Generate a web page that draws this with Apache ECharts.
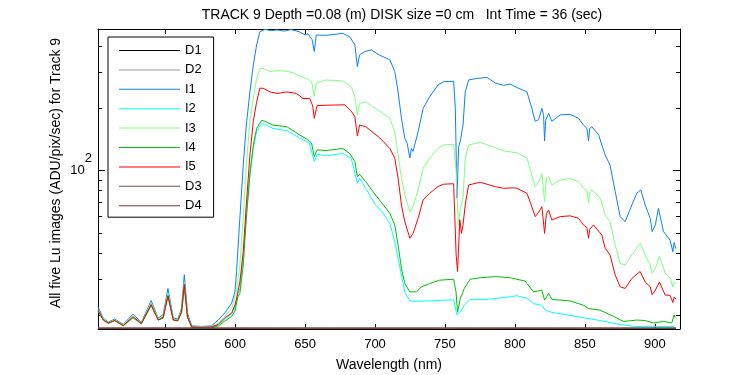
<!DOCTYPE html>
<html>
<head>
<meta charset="utf-8">
<script src="https://cdn.jsdelivr.net/npm/echarts@6/dist/echarts.min.js"></script>
<style>
  html, body { margin: 0; padding: 0; background: #fff; }
  #chart { width: 750px; height: 375px; }
</style>
</head>
<body>
<div id="chart"></div>
<script>
// [wavelength nm, Lu value]
const i1 = [[502, 22.0], [505.8, 19.4], [509.4, 18.6], [514, 19.2], [520, 18.1], [527, 20.3], [533, 18.5], [540, 23.6], [545, 19.4], [548.6, 20.2], [552, 27.0], [555.8, 19.5], [559, 19.2], [561.7, 21.6], [563.7, 31.5], [566, 20.5], [569, 17.8], [576, 17.7], [583, 17.8], [588, 19.0], [592.7, 20.6], [597.5, 22.9], [599.9, 26.0], [601, 32.5], [603.4, 59], [605.8, 106], [608, 166], [610.6, 240], [613, 324], [615.4, 405], [617.7, 469], [621.3, 481], [626, 474], [630, 478], [635, 472], [640, 480], [646, 468], [650, 452], [652, 458], [655, 430], [656.6, 376], [658, 452], [665, 450], [677, 460], [682, 442], [685.6, 405], [687.4, 318], [689, 362], [692.7, 376], [697.4, 383], [703, 362], [710.6, 343], [714.1, 301], [716.5, 240], [718.9, 179], [721.3, 143], [723, 135], [724.9, 115], [726, 128], [727.2, 124], [730.8, 154], [734.4, 200], [739.1, 228], [745, 259], [749, 269], [756.2, 270], [757.4, 200], [758.6, 73.8], [759.8, 131], [761, 139], [762.9, 166], [764.5, 240], [766.9, 274], [772.9, 279], [780, 282], [786, 265], [791.9, 258], [796.6, 262], [801.4, 252], [808.6, 240], [812.1, 200], [814.5, 173], [816.9, 176], [819.3, 200], [820.5, 185], [821.2, 139], [822, 175], [824.1, 189], [826.4, 173], [832.4, 186], [839.5, 187], [845.5, 179], [849, 166], [851.5, 160], [852.6, 139], [853.5, 160], [855, 163], [859.8, 149], [864.5, 119], [868, 106.5], [871.7, 79.2], [875.2, 60], [878.8, 56.7], [883.6, 68.3], [887.1, 77.8], [890, 80.7], [893.1, 68.3], [896.7, 58.9], [898.1, 50.8], [900.4, 54.7], [902.6, 65.8], [906.2, 50.8], [910.9, 46.2], [912.9, 40.6], [913.8, 45], [915, 42]];

const i2 = [[502, 21.0], [505.8, 19.1], [509.4, 18.4], [514, 18.9], [520, 17.9], [527, 19.6], [533, 18.3], [540, 22.5], [545, 19.1], [548.6, 19.5], [552, 25.2], [555.8, 19.1], [559, 18.9], [561.7, 20.8], [563.7, 28.0], [566, 19.6], [569, 17.6], [576, 17.4], [583, 17.5], [588, 18.0], [592.7, 19.2], [597.5, 20.3], [599.9, 21.8], [602, 25.5], [603.4, 27], [605.8, 38], [608, 62], [610.6, 98], [613, 128], [615.4, 155], [619, 169], [621.3, 167], [627, 160], [637, 156], [646, 144], [653, 136], [656.6, 110.6], [658.6, 120], [665, 118], [677, 121], [683, 114.8], [687.4, 86.9], [689, 91.9], [693.4, 82], [700.4, 68.3], [705, 63.4], [710.6, 55.7], [714.1, 45.4], [716.5, 37.8], [718.9, 31.3], [721.3, 26], [724.9, 23.5], [729.7, 23.4], [739.1, 23.5], [749, 23.7], [756.2, 23.8], [758.6, 20.1], [759.8, 19.8], [761.8, 21.2], [763.8, 22.4], [768, 23.9], [780, 23.9], [796.6, 24.6], [801.4, 24.9], [808.6, 24.2], [813.3, 22.8], [819.3, 22.4], [821.7, 21.2], [826.4, 20.7], [839.5, 20], [849, 19.5], [861, 18.9], [872.9, 18.2], [884.8, 17.7], [899, 17.7], [913.3, 17.7], [914.5, 17.9]];

const i3 = [[502, 21.4], [505.8, 19.2], [509.4, 18.5], [514, 19.0], [520, 18.0], [527, 19.9], [533, 18.4], [540, 23.0], [545, 19.2], [548.6, 19.8], [552, 25.6], [555.8, 19.2], [559, 19.0], [561.7, 21.2], [563.7, 28.8], [566, 19.8], [569, 17.6], [576, 17.6], [583, 17.6], [588, 18.3], [592.7, 19.8], [597.5, 21.6], [598.7, 22.0], [601, 26], [603.4, 35], [605.8, 59], [608, 106], [610.6, 173], [613, 223], [615.4, 279], [617.7, 310], [620, 312], [625, 301], [630, 304], [637, 302], [642, 296], [646, 286], [651, 279], [654.6, 270], [656.6, 228], [658, 265], [665, 274], [677, 271], [683, 254], [685.6, 228], [687.4, 186], [689, 211], [693.4, 215], [698, 204], [703.4, 194], [710.6, 179], [714.1, 154], [716.5, 119], [718.9, 91.9], [721.3, 76.3], [724.9, 63.4], [727.2, 67], [730.8, 80.7], [734.4, 102.7], [739.1, 115], [745, 128], [749, 133], [756.2, 134], [758, 100], [759.5, 54.7], [761, 65.8], [762.9, 73.6], [764.5, 115], [766.9, 133], [775.2, 137], [786, 129], [791.9, 124.5], [801.4, 122], [808.6, 115], [812.1, 95.3], [814.5, 83.7], [817, 88], [819.3, 97], [821.2, 71], [822.5, 92], [824.1, 93.5], [826.4, 85.3], [832.4, 90.2], [839.5, 91.5], [845.5, 88.5], [849, 82.2], [851.5, 80], [852.6, 69.6], [853.5, 78], [855, 80.7], [861, 73.6], [864.5, 61.1], [868, 56.7], [871.7, 43.8], [875.2, 35.7], [878.8, 35], [883.6, 39.2], [889.5, 44.6], [893.1, 39.2], [896.7, 35], [898.1, 32], [900.4, 33.7], [903.3, 38.5], [907.4, 32], [910.9, 30.2], [912.9, 27.5], [913.8, 29], [915, 28.5]];

const i4 = [[502, 21.0], [505.8, 19.0], [509.4, 18.3], [514, 18.9], [520, 17.8], [527, 19.5], [533, 18.2], [540, 22.3], [545, 19.0], [548.6, 19.4], [552, 25.0], [555.8, 19.0], [559, 18.8], [561.7, 20.6], [563.7, 27.5], [566, 19.5], [569, 17.5], [576, 17.3], [583, 17.4], [588, 17.8], [592.7, 18.8], [597.5, 19.8], [599.9, 21], [602, 24.6], [603.4, 25.5], [605.8, 35], [608, 58.8], [610.6, 95.3], [613, 133], [615.4, 160], [619, 175], [621.3, 173], [627, 166], [637, 163], [646, 149], [652, 141], [654.6, 136], [656.6, 117], [658.6, 126], [665, 125], [677, 128], [682, 121], [685.6, 110.6], [687.4, 93.5], [689, 96], [693.4, 88.5], [700.4, 76.3], [705, 69.6], [710.6, 62.3], [714.1, 54.7], [716.5, 43.8], [718.9, 33.7], [721.3, 28.5], [724.9, 26.0], [729.7, 26], [733.2, 27.5], [739.1, 28.5], [746.2, 29.6], [756.2, 29.9], [757.9, 26], [759, 20.8], [761, 24.2], [763.8, 27], [768, 29.9], [775.2, 30.4], [786, 30.8], [796.6, 30.4], [801.4, 29.9], [807.4, 29.3], [808.6, 28.5], [813.3, 26], [819.3, 26.5], [821.2, 23.7], [824.1, 25.6], [826.4, 23.9], [839.5, 23.5], [849, 22.4], [852.6, 21.6], [861, 21.2], [870.5, 19.8], [877.6, 18.7], [887.1, 19], [893.1, 18.9], [899, 18.4], [906.2, 18.7], [912.1, 18.4], [913.8, 20.1], [914.5, 19.5]];

const i5 = [[502, 21.2], [505.8, 19.0], [509.4, 18.4], [514, 18.9], [520, 17.9], [527, 19.7], [533, 18.3], [540, 22.6], [545, 19.0], [548.6, 19.6], [552, 24.8], [555.8, 19.0], [559, 18.9], [561.7, 20.8], [563.7, 28.3], [566, 19.6], [569, 17.6], [576, 17.5], [583, 17.6], [588, 18.1], [592.7, 19.5], [597.5, 20.5], [599.9, 22.5], [601, 24], [603.4, 29], [605.8, 40.6], [608, 68.3], [610.6, 119], [613, 173], [615.4, 215], [617.7, 250], [620, 250], [625, 240], [630, 236], [637, 240], [643.9, 236], [648.6, 223], [653.4, 223], [655.5, 205], [656.6, 179], [658.6, 206], [665, 207], [678.4, 208], [683, 194], [685.6, 182], [687.4, 147], [689, 166], [693.4, 163], [698, 154], [703.4, 144], [710.6, 128], [714.1, 115], [716.5, 92], [718.9, 68.3], [721.3, 56.7], [724.9, 47.2], [727.2, 49.8], [730.8, 58.9], [734.4, 72.2], [739.1, 77.8], [745, 83.8], [749, 86], [756.2, 86.5], [758, 39.2], [759, 32.6], [760.6, 58], [761.8, 49.8], [762.9, 54.7], [764.5, 68.3], [766.9, 85.3], [775.2, 87.9], [786, 83.7], [791.9, 82.2], [799, 82.6], [801.4, 82.2], [808.6, 77.8], [812.1, 67], [814.5, 60], [817, 63], [819.3, 67], [821.2, 49.8], [822.5, 62], [824.1, 64.6], [826.4, 57.8], [832.4, 60], [839.5, 60.5], [845.5, 58.9], [849, 54.7], [851.5, 53], [852.6, 47.2], [853.5, 52], [856.2, 54.7], [862.1, 48.9], [864.5, 42.2], [868, 39.2], [871.7, 31.3], [875.2, 27.5], [878.8, 27], [883.6, 30.2], [889.5, 32.6], [893.1, 29], [896.7, 27.5], [898.1, 25.2], [900.4, 26.5], [903.3, 29], [907.4, 25.1], [910.9, 25], [912.9, 23.1], [913.8, 24.5], [915, 24]];

// dark frames sit on the bottom of the axis
const d1 = [[502, 17.3], [550, 17.3], [600, 17.3], [650, 17.3], [700, 17.3], [750, 17.3], [800, 17.3], [850, 17.3], [915, 17.3]];
const d2 = [[502, 17.35], [550, 17.3], [600, 17.35], [650, 17.3], [700, 17.35], [750, 17.3], [800, 17.35], [850, 17.3], [915, 17.35]];
const d3 = [[502, 17.4], [550, 17.35], [600, 17.4], [650, 17.35], [700, 17.4], [750, 17.35], [800, 17.4], [850, 17.35], [915, 17.4]];
const d4 = [[502, 17.35], [550, 17.4], [600, 17.35], [650, 17.4], [700, 17.35], [750, 17.4], [800, 17.35], [850, 17.4], [915, 17.35]];

const seriesNames = ['D1', 'D2', 'I1', 'I2', 'I3', 'I4', 'I5', 'D3', 'D4'];
const seriesData = [d1, d2, i1, i2, i3, i4, i5, d3, d4];
const seriesColors = ['#000000', '#999999', '#0a80ff', '#00ffff', '#80ff80', '#00c000', '#ff0000', '#7a5050', '#7f3333'];

const xTicks = [550, 600, 650, 700, 750, 800, 850, 900];
const yMinorTicks = [20, 30, 40, 50, 60, 70, 80, 90, 100, 200, 300, 400];
const yMajorTicks = [100];

const xMin = 502;
const xMax = 918;
const yMin = 17.2;
const yMax = 483;

const font = "'Liberation Sans', Arial, Helvetica, sans-serif";

const chart = echarts.init(document.getElementById('chart'), null, { renderer: 'canvas' });

const yBase = (position, ticks, len, showLine) => ({
  type: 'log',
  logBase: 10,
  position,
  min: yMin,
  max: yMax,
  splitLine: { show: false },
  axisLine: { show: showLine, lineStyle: { color: '#000', width: 1 } },
  axisTick: { show: true, inside: true, length: len, customValues: ticks, lineStyle: { color: '#000' } },
  axisLabel: { show: false }
});

const yLeft = yBase('left', yMinorTicks, 4, true);
yLeft.axisLabel = {
  show: true,
  customValues: yMajorTicks,
  margin: 6,
  color: '#000',
  fontFamily: font,
  formatter: () => '{a|10}{b|2}',
  rich: {
    a: { fontSize: 13, fontFamily: font, color: '#000' },
    b: { fontSize: 13, fontFamily: font, color: '#000', padding: [0, 0, 24, 0] }
  }
};

const option = {
  animation: false,
  backgroundColor: '#fff',
  title: {
    text: 'TRACK 9 Depth =0.08 (m) DISK size =0 cm   Int Time = 36 (sec)',
    left: 397,
    top: 3,
    textAlign: 'center',
    textStyle: { fontSize: 14, fontWeight: 'normal', color: '#000', fontFamily: font }
  },
  grid: { left: 98, right: 70, top: 29, bottom: 46, containLabel: false, outerBoundsMode: 'none' },
  legend: {
    orient: 'vertical',
    left: 108,
    top: 37,
    padding: [7, 12, 5, 11],
    itemWidth: 61,
    itemHeight: 14,
    itemGap: 6.4,
    icon: 'path://M0,0H61V1H0Z',
    backgroundColor: '#fff',
    borderColor: '#000',
    borderWidth: 1,
    borderRadius: 0,
    data: seriesNames.map((name, idx) => ({
      name,
      itemStyle: { color: seriesColors[idx], opacity: 1 }
    })),
    textStyle: { fontSize: 13, color: '#000', fontFamily: font }
  },
  xAxis: [
    {
      type: 'value',
      position: 'bottom',
      min: xMin,
      max: xMax,
      name: 'Wavelength (nm)',
      nameLocation: 'middle',
      nameGap: 29,
      nameTextStyle: { fontSize: 14, color: '#000', fontFamily: font },
      splitLine: { show: false },
      axisLine: { show: true, onZero: false, lineStyle: { color: '#000', width: 1 } },
      axisTick: { show: true, inside: true, length: 5, customValues: xTicks, lineStyle: { color: '#000' } },
      axisLabel: { show: true, customValues: xTicks, margin: 9, fontSize: 13, color: '#000', fontFamily: font }
    },
    {
      type: 'value',
      position: 'top',
      min: xMin,
      max: xMax,
      splitLine: { show: false },
      axisLine: { show: true, onZero: false, lineStyle: { color: '#000', width: 1 } },
      axisTick: { show: true, inside: true, length: 5, customValues: xTicks, lineStyle: { color: '#000' } },
      axisLabel: { show: false }
    }
  ],
  yAxis: [
    yLeft,
    yBase('right', yMinorTicks, 4, true),
    yBase('left', yMajorTicks, 7, false),
    yBase('right', yMajorTicks, 7, false)
  ],
  graphic: [
    {
      type: 'text',
      x: 56,
      y: 173,
      rotation: Math.PI / 2,
      style: {
        text: 'All five Lu images (ADU/pix/sec) for Track 9',
        fontSize: 14,
        fontFamily: font,
        fill: '#000',
        align: 'center',
        verticalAlign: 'middle',
        textAlign: 'center',
        textVerticalAlign: 'middle'
      }
    }
  ],
  series: seriesNames.map((name, idx) => ({
    name,
    type: 'line',
    data: seriesData[idx],
    xAxisIndex: 0,
    yAxisIndex: 0,
    symbol: 'none',
    showSymbol: false,
    smooth: false,
    color: seriesColors[idx],
    lineStyle: { width: 1, color: seriesColors[idx] },
    emphasis: { disabled: true }
  }))
};

chart.setOption(option);
</script>
</body>
</html>
